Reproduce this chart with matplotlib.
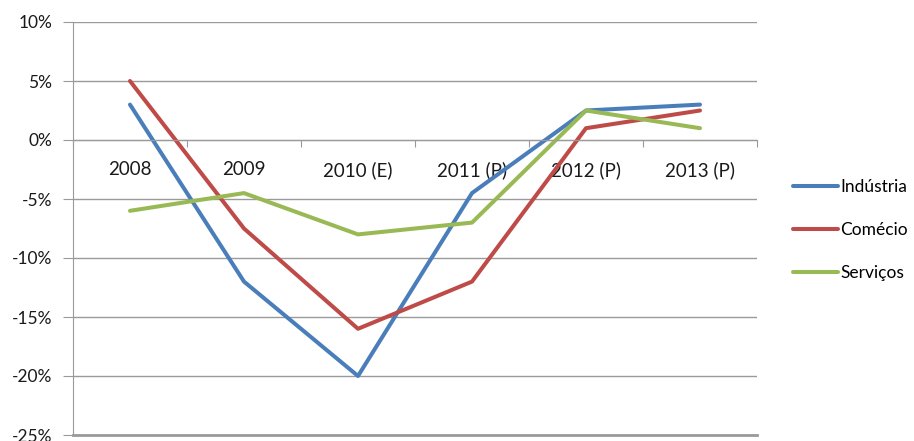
import matplotlib.pyplot as plt
from matplotlib.ticker import FixedLocator, NullFormatter

categories = ["2008", "2009", "2010 (E)", "2011 (P)", "2012 (P)", "2013 (P)"]
industria = [3.0, -12.0, -20.0, -4.5, 2.5, 3.0]
comercio = [5.0, -7.5, -16.0, -12.0, 1.0, 2.5]
servicos = [-6.0, -4.5, -8.0, -7.0, 2.5, 1.0]
yticks = [10, 5, 0, -5, -10, -15, -20, -25]

grid_col = "#9a9a9a"
text_col = "#1a1a1a"
plt.rcParams["font.family"] = ["Lato", "DejaVu Sans"]

fig = plt.figure(figsize=(9.14, 4.41), dpi=100)
ax = fig.add_axes([73 / 914, 6 / 441, 684 / 914, 413 / 441])

x = list(range(len(categories)))
ax.plot(x, industria, color="#4a7ebb", lw=2.9, label="Indústria", solid_capstyle="round")
ax.plot(x, comercio, color="#be4b48", lw=2.9, label="Comécio", solid_capstyle="round")
ax.plot(x, servicos, color="#98b954", lw=2.9, label="Serviços", solid_capstyle="round")

ax.set_xlim(-0.5, len(categories) - 0.5)
ax.set_ylim(-25, 10)
ax.set_yticks(yticks)
ax.set_yticklabels([f"{v}%" for v in yticks], fontsize=12.5, color=text_col)
ax.yaxis.grid(True, color=grid_col, lw=1)
ax.set_axisbelow(True)

# category axis crosses at zero
ax.spines["bottom"].set_position(("data", 0))
ax.spines["bottom"].set_color(grid_col)
ax.spines["left"].set_color(grid_col)
ax.spines["top"].set_visible(False)
ax.spines["right"].set_visible(False)
ax.axhline(-25, color=grid_col, lw=2, clip_on=False)

ax.xaxis.set_major_locator(FixedLocator([i - 0.5 for i in range(len(categories) + 1)]))
ax.xaxis.set_major_formatter(NullFormatter())
ax.xaxis.set_minor_locator(FixedLocator(x))
ax.set_xticklabels(categories, minor=True, fontsize=13.5, color=text_col)
ax.tick_params(axis="x", which="major", length=5, color=grid_col, direction="out")
ax.tick_params(axis="x", which="minor", length=0, pad=15)
ax.tick_params(axis="y", length=7, color=grid_col, pad=8)

fig.legend(loc="center left", bbox_to_anchor=(786 / 914, (441 - 230) / 441),
           frameon=False, fontsize=12.5, handlelength=2.6, handletextpad=0.12,
           labelspacing=1.55, borderaxespad=0)

fig.savefig("out.png", dpi=100)
